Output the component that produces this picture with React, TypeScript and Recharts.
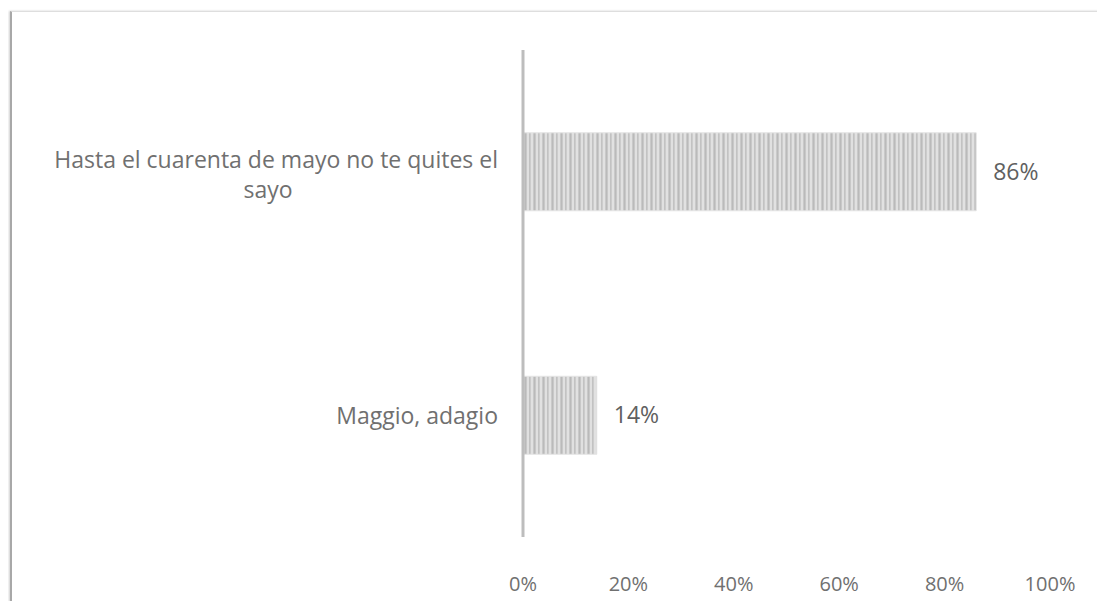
import React from 'react';
import { BarChart, Bar, XAxis, YAxis, LabelList } from 'recharts';

// values
const categories = [
  ['Hasta el cuarenta de mayo no te quites el', 'sayo'],
  ['Maggio, adagio'],
];
const shares = [86, 14];
const xTicks = [0, 20, 40, 60, 80, 100];

const data = categories.map((lines, i) => ({ name: lines.join(' '), lines, value: shares[i] }));

const FONT = '"Open Sans", sans-serif';
const CAT_SIZE = 23;
const TICK_SIZE = 20;
const GREY = '#707070';

function measure(text: string) {
  const c = document.createElement('canvas').getContext('2d');
  if (!c) return text.length * 11;
  c.font = `${CAT_SIZE}px "Open Sans"`;
  return c.measureText(text).width;
}

const CategoryTick = (props: any) => {
  const { x, y, payload } = props;
  const row = data.find((d) => d.name === payload.value);
  const lines = row ? row.lines : [payload.value];
  const right = x - 23;
  if (lines.length === 1) {
    return (
      <text x={right} y={y} textAnchor="end" dominantBaseline="central" fill={GREY} fontSize={CAT_SIZE} fontFamily={FONT}>
        {lines[0]}
      </text>
    );
  }
  const w = measure(lines[0]);
  // first line right-aligned, following lines centred under it (a bit left, as in the source)
  const mid = right - w / 2 - 8;
  return (
    <g>
      {lines.map((l, i) => (
        <text
          key={i}
          x={i === 0 ? right : mid}
          y={y - 13 + i * 30}
          textAnchor={i === 0 ? 'end' : 'middle'}
          dominantBaseline="central"
          fill={GREY}
          fontSize={CAT_SIZE}
          fontFamily={FONT}
        >
          {l}
        </text>
      ))}
    </g>
  );
};

export default function App() {
  return (
    <div
      style={{
        marginTop: 3,
        marginLeft: 2,
        width: 1095,
        height: 590,
        borderLeft: '2px solid #a8a8a8',
        borderTop: '1px solid #dedede',
        boxShadow: '-1px 0 2px #d0d0d0',
        background: '#fff',
      }}
    >
      <BarChart
        width={1093}
        height={589}
        data={data}
        layout="vertical"
        margin={{ top: 38, right: 55, bottom: 0, left: 0 }}
        barCategoryGap="34%"
      >
        <defs>
          <pattern id="stripes" width="9" height="10" patternUnits="userSpaceOnUse">
            <rect x="0" y="0" width="9" height="10" fill="#d6d6d6" />
            <rect x="0" y="0" width="1.5" height="10" fill="#bababa" />
            <rect x="2.5" y="0" width="1" height="10" fill="#eaeaea" />
            <rect x="4" y="0" width="1.5" height="10" fill="#c2c2c2" />
            <rect x="6.5" y="0" width="1" height="10" fill="#ececec" />
            <rect x="8" y="0" width="1" height="10" fill="#c9c9c9" />
          </pattern>
        </defs>
        <XAxis
          type="number"
          domain={[0, 100]}
          ticks={xTicks}
          tickFormatter={(v) => `${v}%`}
          axisLine={false}
          tickLine={false}
          tickSize={0}
          tickMargin={40}
          height={64}
          tick={{ fill: GREY, fontSize: TICK_SIZE, fontFamily: FONT }}
          interval={0}
        />
        <YAxis
          type="category"
          dataKey="name"
          width={511}
          axisLine={{ stroke: '#bdbdbd', strokeWidth: 3 }}
          tickLine={false}
          tickSize={0}
          tick={<CategoryTick />}
          interval={0}
        />
        <Bar dataKey="value" fill="url(#stripes)" stroke="#e4e4e4" strokeWidth={1} isAnimationActive={false}>
          <LabelList
            dataKey="value"
            position="right"
            offset={17}
            formatter={(v: any) => `${v}%`}
            fill="#606060"
            fontSize={CAT_SIZE}
            fontFamily={FONT}
          />
        </Bar>
      </BarChart>
    </div>
  );
}
